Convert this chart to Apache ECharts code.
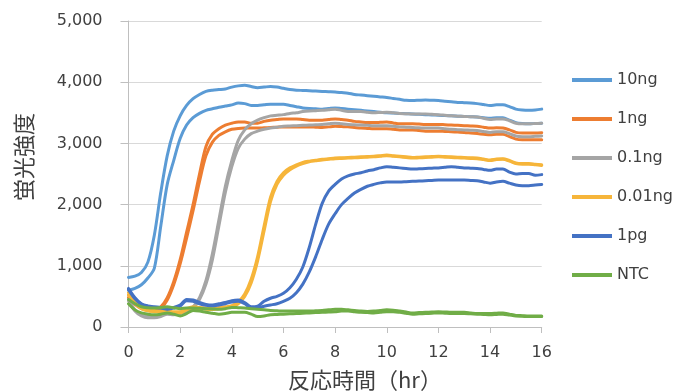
<!DOCTYPE html>
<html>
<head>
<meta charset="utf-8">
<script src="https://cdn.jsdelivr.net/npm/echarts@6/dist/echarts.min.js"></script>
<style>
  html, body { margin: 0; padding: 0; background: #fff; }
  #chart { width: 689px; height: 391px; }
</style>
</head>
<body>
<div id="chart"></div>
<script>
// Reaction time (hr), read every 15 minutes
const hours = [
  0, 0.25, 0.5, 0.75, 1, 1.25, 1.5, 1.75, 2, 2.25, 2.5, 2.75, 3, 3.25, 3.5, 3.75,
  4, 4.25, 4.5, 4.75, 5, 5.25, 5.5, 5.75, 6, 6.25, 6.5, 6.75, 7, 7.25, 7.5, 7.75,
  8, 8.25, 8.5, 8.75, 9, 9.25, 9.5, 9.75, 10, 10.25, 10.5, 10.75, 11, 11.25, 11.5, 11.75,
  12, 12.25, 12.5, 12.75, 13, 13.25, 13.5, 13.75, 14, 14.25, 14.5, 14.75, 15, 15.25, 15.5, 15.75, 16
];

// Fluorescence intensity, two replicate wells per template amount
const ng10_a = [
  810, 830, 890, 1060, 1500, 2200, 2800, 3200, 3450, 3620, 3730, 3800, 3850, 3870, 3880, 3890,
  3920, 3940, 3950, 3930, 3910, 3920, 3930, 3920, 3900, 3880, 3870, 3865, 3860, 3855, 3850, 3845,
  3840, 3830, 3820, 3800, 3790, 3780, 3770, 3760, 3750, 3735, 3720, 3705, 3700, 3705, 3710, 3705,
  3700, 3690, 3680, 3670, 3665, 3660, 3650, 3635, 3620, 3630, 3630, 3600, 3560, 3545, 3540, 3545, 3560
];
const ng10_b = [
  600, 630, 690, 800, 960, 1650, 2330, 2720, 3080, 3300, 3420, 3490, 3540, 3565, 3590, 3610,
  3630, 3660, 3650, 3620, 3620, 3630, 3640, 3640, 3640, 3620, 3600, 3580, 3570, 3565, 3560, 3570,
  3580, 3570, 3560, 3550, 3540, 3530, 3520, 3510, 3500, 3495, 3490, 3485, 3480, 3475, 3470, 3465,
  3460, 3455, 3450, 3445, 3440, 3435, 3430, 3420, 3410, 3420, 3420, 3380, 3340, 3325, 3320, 3325, 3330
];

const ng1_a = [
  520, 400, 330, 300, 290, 330, 480, 740, 1100, 1550, 2000, 2500, 2950, 3150, 3240, 3300,
  3330, 3350, 3350, 3330, 3330, 3360, 3380, 3390, 3400, 3400, 3400, 3390, 3380, 3380, 3380, 3390,
  3400, 3390, 3380, 3360, 3350, 3340, 3340, 3345, 3350, 3335, 3320, 3320, 3320, 3315, 3310, 3310,
  3310, 3305, 3300, 3295, 3290, 3285, 3280, 3265, 3250, 3255, 3250, 3220, 3180, 3170, 3170, 3170, 3175
];
const ng1_b = [
  480, 370, 300, 270, 260, 300, 440, 690, 1030, 1450, 1900, 2380, 2800, 3020, 3130, 3190,
  3230, 3245, 3250, 3250, 3250, 3255, 3260, 3265, 3270, 3270, 3270, 3270, 3270, 3265, 3260, 3270,
  3280, 3275, 3270, 3260, 3250, 3245, 3240, 3240, 3240, 3230, 3220, 3220, 3220, 3210, 3200, 3200,
  3200, 3195, 3190, 3185, 3180, 3170, 3160, 3150, 3140, 3150, 3150, 3110, 3070, 3060, 3060, 3060, 3060
];

const ng01_a = [
  450, 280, 200, 170, 170, 190, 230, 220, 230, 270, 330, 480, 760, 1200, 1750, 2300,
  2720, 3050, 3220, 3320, 3380, 3420, 3450, 3460, 3470, 3490, 3500, 3520, 3530, 3535, 3540, 3550,
  3560, 3540, 3520, 3520, 3520, 3510, 3500, 3505, 3510, 3500, 3490, 3485, 3480, 3480, 3480, 3475,
  3470, 3460, 3450, 3445, 3440, 3435, 3430, 3410, 3390, 3400, 3400, 3370, 3330, 3320, 3320, 3325, 3330
];
const ng01_b = [
  430, 260, 180, 150, 150, 170, 210, 200, 220, 250, 310, 450, 700, 1100, 1650, 2200,
  2620, 2920, 3070, 3160, 3200, 3230, 3250, 3265, 3280, 3285, 3290, 3295, 3300, 3305, 3310, 3320,
  3330, 3320, 3310, 3305, 3300, 3295, 3290, 3290, 3290, 3280, 3270, 3265, 3260, 3255, 3250, 3250,
  3250, 3240, 3230, 3225, 3220, 3215, 3210, 3195, 3180, 3190, 3190, 3160, 3120, 3110, 3110, 3115, 3120
];

const ng001_a = [
  560, 420, 330, 290, 270, 260, 270, 250, 250, 300, 330, 320, 310, 300, 320, 330,
  350, 410, 540, 780, 1150, 1650, 2120, 2380, 2520, 2600, 2650, 2690, 2710, 2725, 2740, 2750,
  2760, 2765, 2770, 2775, 2780, 2785, 2790, 2800, 2810, 2800, 2790, 2780, 2770, 2775, 2780, 2785,
  2790, 2785, 2780, 2775, 2770, 2765, 2760, 2745, 2730, 2745, 2750, 2720, 2680, 2670, 2670, 2660, 2650
];
const ng001_b = [
  520, 390, 300, 265, 250, 240, 250, 230, 230, 280, 310, 300, 290, 285, 300, 310,
  330, 380, 500, 720, 1080, 1570, 2050, 2330, 2480, 2570, 2630, 2670, 2700, 2715, 2730, 2740,
  2750, 2755, 2760, 2765, 2770, 2775, 2780, 2790, 2800, 2790, 2780, 2770, 2760, 2765, 2770, 2775,
  2780, 2775, 2770, 2765, 2760, 2755, 2750, 2735, 2720, 2735, 2740, 2710, 2670, 2660, 2660, 2650, 2640
];

const pg1_a = [
  630, 480, 380, 345, 330, 320, 300, 320, 360, 450, 440, 400, 370, 360, 380, 400,
  430, 440, 400, 330, 340, 420, 470, 500, 550, 640, 780, 980, 1300, 1680, 2020, 2220,
  2330, 2420, 2470, 2500, 2520, 2550, 2570, 2600, 2620, 2610, 2600, 2590, 2580, 2585, 2590, 2595,
  2600, 2610, 2620, 2610, 2600, 2595, 2590, 2575, 2560, 2580, 2580, 2530, 2500, 2510, 2510, 2480, 2490
];
const pg1_b = [
  610, 460, 370, 335, 320, 310, 290, 310, 340, 430, 420, 380, 355, 345, 360, 380,
  410, 420, 380, 310, 320, 340, 360, 380, 420, 470, 560, 700, 900, 1150, 1430, 1680,
  1850, 2000, 2100, 2190, 2250, 2300, 2330, 2355, 2370, 2370, 2370, 2375, 2380, 2385, 2390, 2395,
  2400, 2400, 2400, 2400, 2400, 2395, 2390, 2370, 2350, 2370, 2380, 2350, 2320, 2310, 2310, 2320, 2330
];

const ntc_a = [
  450, 380, 330, 315, 310, 320, 330, 315, 300, 310, 310, 305, 300, 295, 290, 300,
  320, 315, 310, 300, 290, 280, 270, 265, 260, 260, 260, 260, 260, 265, 270, 280,
  290, 290, 280, 270, 260, 255, 260, 270, 280, 275, 260, 245, 230, 235, 240, 245,
  250, 245, 240, 240, 240, 230, 220, 220, 220, 225, 230, 210, 190, 185, 180, 180, 180
];
const ntc_b = [
  380, 280, 230, 210, 200, 210, 230, 210, 180, 220, 270, 260, 240, 225, 210, 220,
  240, 240, 240, 210, 170, 180, 200, 205, 210, 215, 220, 225, 230, 235, 240, 245,
  250, 260, 260, 250, 240, 235, 230, 240, 250, 250, 240, 225, 210, 215, 220, 225,
  230, 225, 220, 220, 220, 215, 210, 205, 200, 205, 210, 195, 180, 175, 170, 170, 170
];

const groupNames = ['10ng', '1ng', '0.1ng', '0.01ng', '1pg', 'NTC'];
const groupColors = ['#5B9BD5', '#ED7D31', '#A5A5A5', '#F6B53A', '#4472C4', '#70AD47'];
const groupReplicates = [
  [ng10_a, ng10_b], [ng1_a, ng1_b], [ng01_a, ng01_b],
  [ng001_a, ng001_b], [pg1_a, pg1_b], [ntc_a, ntc_b]
];

const yTicks = [0, 1000, 2000, 3000, 4000, 5000];
const xTicks = [0, 2, 4, 6, 8, 10, 12, 14, 16];

const FONT = '"DejaVu Sans", sans-serif';
const CJK = '"Noto Sans CJK JP", sans-serif';
const TEXT_COLOR = '#404040';

const series = [];
groupNames.forEach((name, g) => {
  groupReplicates[g].forEach(values => {
    series.push({
      name: name,
      type: 'line',
      data: hours.map((h, i) => [h, values[i]]),
      smooth: 0.3,
      showSymbol: false,
      symbol: 'none',
      lineStyle: { width: 3, color: groupColors[g], cap: 'round', join: 'round' },
      itemStyle: { color: groupColors[g] },
      emphasis: { disabled: true },
      animation: false
    });
  });
});

const chart = echarts.init(document.getElementById('chart'), null, { renderer: 'canvas' });
chart.setOption({
  backgroundColor: '#ffffff',
  animation: false,
  grid: { left: 128.5, right: 147.3, top: 21, bottom: 64 },
  xAxis: {
    type: 'value',
    min: xTicks[0],
    max: xTicks[xTicks.length - 1],
    interval: 2,
    axisLine: { show: true, lineStyle: { color: '#BFBFBF', width: 1 } },
    axisTick: { show: true, length: 6, lineStyle: { color: '#BFBFBF' } },
    splitLine: { show: false },
    axisLabel: { color: TEXT_COLOR, fontFamily: FONT, fontSize: 16, margin: 18 }
  },
  yAxis: {
    type: 'value',
    min: yTicks[0],
    max: yTicks[yTicks.length - 1],
    interval: 1000,
    axisLine: { show: true, lineStyle: { color: '#BFBFBF', width: 1 } },
    axisTick: { show: true, inside: false, length: 8, lineStyle: { color: '#BFBFBF' } },
    splitLine: { show: true, lineStyle: { color: '#D9D9D9', width: 1 } },
    axisLabel: {
      color: TEXT_COLOR, fontFamily: FONT, fontSize: 16, margin: 26,
      formatter: v => v.toLocaleString('en-US')
    }
  },
  legend: {
    orient: 'vertical',
    left: 572,
    top: 70,
    padding: 0,
    itemWidth: 40,
    itemHeight: 4,
    itemGap: 19,
    icon: 'rect',
    data: groupNames,
    selectedMode: false,
    textStyle: { color: TEXT_COLOR, fontFamily: FONT, fontSize: 16, lineHeight: 20 }
  },
  graphic: [
    {
      type: 'text',
      x: 288,
      y: 380,
      style: { text: '反応時間（hr）', fill: TEXT_COLOR, font: '22px ' + CJK, verticalAlign: 'middle' }
    },
    {
      type: 'text',
      x: 24,
      y: 157,
      rotation: Math.PI / 2,
      style: {
        text: '蛍光強度', fill: TEXT_COLOR, font: '22px ' + CJK,
        align: 'center', verticalAlign: 'middle'
      }
    }
  ],
  series: series
});
</script>
</body>
</html>
